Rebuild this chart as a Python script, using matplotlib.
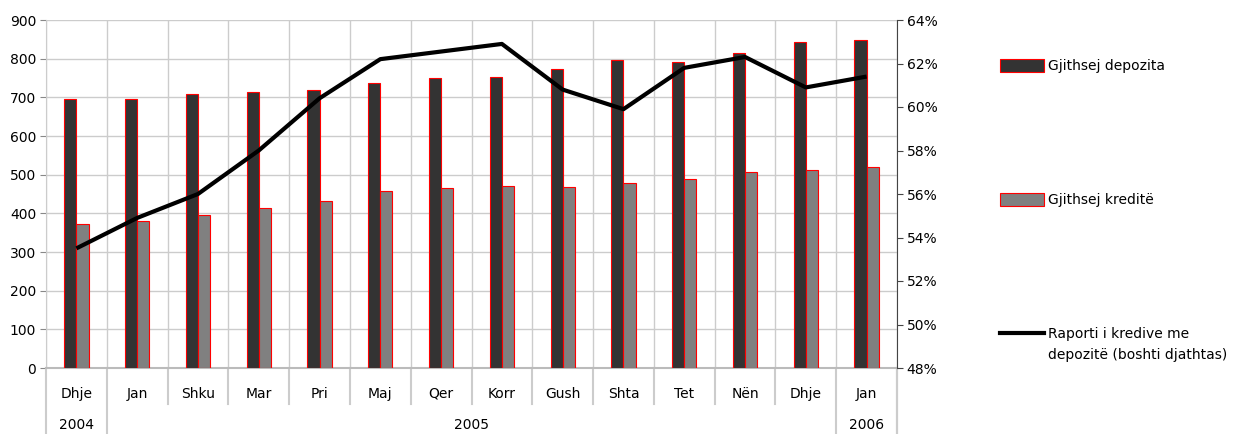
import matplotlib
matplotlib.use("Agg")
import matplotlib.pyplot as plt
import matplotlib.transforms as mtransforms
from matplotlib.patches import Patch
from matplotlib.lines import Line2D
import numpy as np

# DATA
months = ["Dhje", "Jan", "Shku", "Mar", "Pri", "Maj", "Qer", "Korr",
          "Gush", "Shta", "Tet", "Nën", "Dhje", "Jan"]
years = ["2004", "2005", "2006"]
year_spans = [(0, 0), (1, 12), (13, 13)]
deposits = [695, 695, 708, 713, 718, 737, 749, 753, 773, 797, 791, 815, 843, 847]
loans = [373, 381, 396, 413, 432, 457, 466, 471, 468, 478, 489, 508, 513, 520]
ratio = [53.5, 54.9, 56.0, 58.0, 60.4, 62.2, 62.55, 62.9, 60.8, 59.9, 61.8, 62.3, 60.9, 61.4]

GRID = "#cccccc"
FS = 10

plt.rcParams['font.family'] = ['DejaVu Sans']

fig = plt.figure(figsize=(12.41, 4.34), dpi=100)
ax = fig.add_axes([46/1241, 1-368/434, (897-46)/1241, (368-20)/434])

x = np.arange(len(months))
w = 0.2
ax.bar(x - w/2, deposits, w, color="#333333", edgecolor="red", linewidth=0.8, zorder=3)
ax.bar(x + w/2, loans, w, color="#808080", edgecolor="red", linewidth=0.8, zorder=3)

ax.set_xlim(-0.5, len(months) - 0.5)
ax.set_ylim(0, 900)
ax.set_yticks(np.arange(0, 901, 100))
ax.tick_params(axis='y', labelsize=FS, length=4, color="#888888", pad=3)

# grid
ax.set_xticks(np.arange(-0.5, len(months), 1), minor=True)
ax.grid(True, which='minor', axis='x', color=GRID, linewidth=1, zorder=0)
ax.grid(True, which='major', axis='y', color=GRID, linewidth=1, zorder=0)
ax.set_axisbelow(True)
for s in ["top", "right"]:
    ax.spines[s].set_visible(False)
ax.spines["left"].set_color(GRID)
ax.spines["bottom"].set_color("#bbbbbb")
ax.spines["bottom"].set_linewidth(1.5)

# category labels
ax.set_xticks(x)
ax.set_xticklabels([])
ax.tick_params(axis='x', which='both', length=0)
trans = mtransforms.blended_transform_factory(ax.transData, ax.transAxes)
for i, m in enumerate(months):
    ax.text(i, -0.086, m, transform=trans, ha='center', va='baseline', fontsize=FS)
year_edges = set()
for (a, b) in year_spans:
    year_edges.add(a - 0.5)
    year_edges.add(b + 0.5)
for b in np.arange(-0.5, len(months), 1):
    y_end = -0.19 if b in year_edges else -0.1034
    ax.plot([b, b], [0, y_end], transform=trans, color=GRID, linewidth=1.5, clip_on=False)
for yr, (a, b) in zip(years, year_spans):
    ax.text((a + b) / 2, -0.175, yr, transform=trans, ha='center', va='baseline', fontsize=FS)

# secondary axis
ax2 = ax.twinx()
ax2.plot(x, ratio, color="black", linewidth=3, solid_capstyle='butt', zorder=5)
ax2.set_ylim(48, 64)
ax2.set_yticks(np.arange(48, 65, 2))
ax2.set_yticklabels([f"{v}%" for v in range(48, 65, 2)])
ax2.tick_params(axis='y', labelsize=FS, length=4, color="#444444", pad=3)
for s in ["top", "left", "bottom"]:
    ax2.spines[s].set_visible(False)
ax2.spines["right"].set_color("#444444")
ax.plot([len(months) - 0.5] * 2, [0, -0.19], transform=trans, color=GRID, linewidth=1.5, clip_on=False)

# legend
handles = [
    Patch(facecolor="#333333", edgecolor="red", linewidth=0.8),
    Patch(facecolor="#808080", edgecolor="red", linewidth=0.8),
    Line2D([0], [0], color="black", linewidth=3),
]
labels = ["Gjithsej depozita", "Gjithsej kreditë", "Raporti i kredive me"]
ypos = [1-66/434, 1-200/434, 1-334/434]
for h, l, yp in zip(handles, labels, ypos):
    fig.legend([h], [l], loc='center left', bbox_to_anchor=(1000/1241, yp),
               frameon=False, fontsize=FS, handlelength=3.2, handleheight=1.1,
               handletextpad=0.25, borderpad=0, borderaxespad=0)
fig.text(1048/1241, 1-355/434, "depozitë (boshti djathtas)", ha='left', va='center', fontsize=FS)

fig.savefig("out.png", dpi=100)
